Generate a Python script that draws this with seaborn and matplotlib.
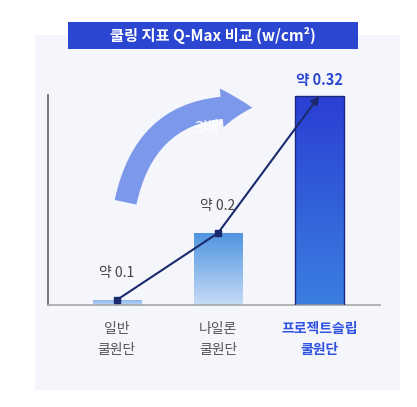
import matplotlib
matplotlib.use("Agg")
import matplotlib.pyplot as plt
import seaborn as sns
import numpy as np
import pandas as pd
from matplotlib.patches import FancyArrowPatch, Rectangle

sns.set_theme(style="white")
plt.rcParams['font.family'] = ['Noto Sans CJK KR', 'DejaVu Sans']

categories = ["일반\n쿨원단", "나일론\n쿨원단", "프로젝트슬립\n쿨원단"]
heights = [5, 72, 209]          # drawn bar heights (visual scale)
value_labels = ["약 0.1", "약 0.2", "약 0.32"]
title = "쿨링 지표 Q-Max 비교 (w/cm²)"

W, H = 417, 407
fig = plt.figure(figsize=(W/100, H/100), dpi=100)
fig.patch.set_facecolor("white")
def P(x, y):
    return (x/W, 1-y/H)

fig.add_artist(Rectangle(P(35, 390), (400-35)/W, (390-35)/H, transform=fig.transFigure,
                         facecolor="#f4f6fc", edgecolor="none", zorder=-2))
fig.add_artist(Rectangle(P(68, 49), (358-68)/W, 27/H, transform=fig.transFigure,
                         facecolor="#2b46d1", edgecolor="none", zorder=-1))
fig.text((68+358)/2/W, 1-35.5/H, title, color="white", fontsize=11, fontweight="bold",
         ha="center", va="center", zorder=0)

ax = fig.add_axes([48/W, 1-305/H, (380-48)/W, (305-60)/H])
ax.set_zorder(1)
ax.set_facecolor("none")
df = pd.DataFrame({"cat": categories, "h": heights})
cols = ["#9ec2ee", "#5f9de3", "#2a44d4"]
sns.barplot(data=df, x="cat", y="h", hue="cat", palette=cols, width=0.48, ax=ax,
            legend=False, edgecolor="none")
maps = [["#b9d3f3", "#8db8ec"], ["#c6dcf6", "#4f93e0"], ["#3a7fe0", "#2a3fd4"]]
for i, p in enumerate(list(ax.patches)):
    x0, w, h = p.get_x(), p.get_width(), p.get_height()
    grad = np.linspace(0, 1, 100)[:, None]
    cmap = matplotlib.colors.LinearSegmentedColormap.from_list("g", maps[i])
    im = ax.imshow(grad, extent=[x0, x0+w, 0, h], origin="lower", aspect="auto", cmap=cmap, zorder=2)
    im.set_clip_path(p)
    if i == 2:
        ax.add_patch(Rectangle((x0, 0), w, h, facecolor="none", edgecolor="#1a2a80", lw=1, zorder=3))
ax.set_xlim(-0.68, 2.6)
ax.set_ylim(0, 245)

xs = np.arange(len(heights))
ax.plot(xs[:2], heights[:2], color="#1a2a6c", lw=1.5, zorder=4)
ax.scatter(xs[:2], heights[:2], marker="s", s=22, color="#1a2a6c", zorder=5)
ax.annotate("", xy=(xs[2], heights[2]), xytext=(xs[1], heights[1]),
            arrowprops=dict(arrowstyle="-|>", color="#1a2a6c", lw=1.5, shrinkA=0, shrinkB=0), zorder=5)

for i, (x, h, lab) in enumerate(zip(xs, heights, value_labels)):
    if i == 2:
        ax.text(x, h+8, lab, ha="center", va="bottom", fontsize=10.5, fontweight="bold", color="#2b46d1")
    else:
        ax.text(x, h+20, lab, ha="center", va="bottom", fontsize=10, color="#444444")

sns.despine(ax=ax, top=True, right=True)
ax.spines["left"].set_bounds(0, 210)
ax.spines["left"].set_color("#666666")
ax.spines["bottom"].set_color("#aaaaaa")
ax.set_yticks([])
ax.set_xlabel(""); ax.set_ylabel("")
ax.tick_params(axis="x", length=0, pad=12)
ax.set_xticks(xs)
ax.set_xticklabels(categories, fontsize=10, color="#555555", linespacing=1.7)
t = ax.get_xticklabels()[2]
t.set_color("#2f52e0"); t.set_fontweight("bold")

arr = FancyArrowPatch(P(125, 205), P(255, 108), transform=fig.transFigure,
                      connectionstyle="arc3,rad=-0.45",
                      arrowstyle="simple,head_width=28,head_length=22,tail_width=16",
                      facecolor="#6f8ee8", edgecolor="none", alpha=0.9, zorder=3)
fig.add_artist(arr)
fig.text(*P(207, 128), "3배", color="white", fontsize=12, ha="center", va="center", zorder=6)

fig.savefig("out.png", dpi=100)
